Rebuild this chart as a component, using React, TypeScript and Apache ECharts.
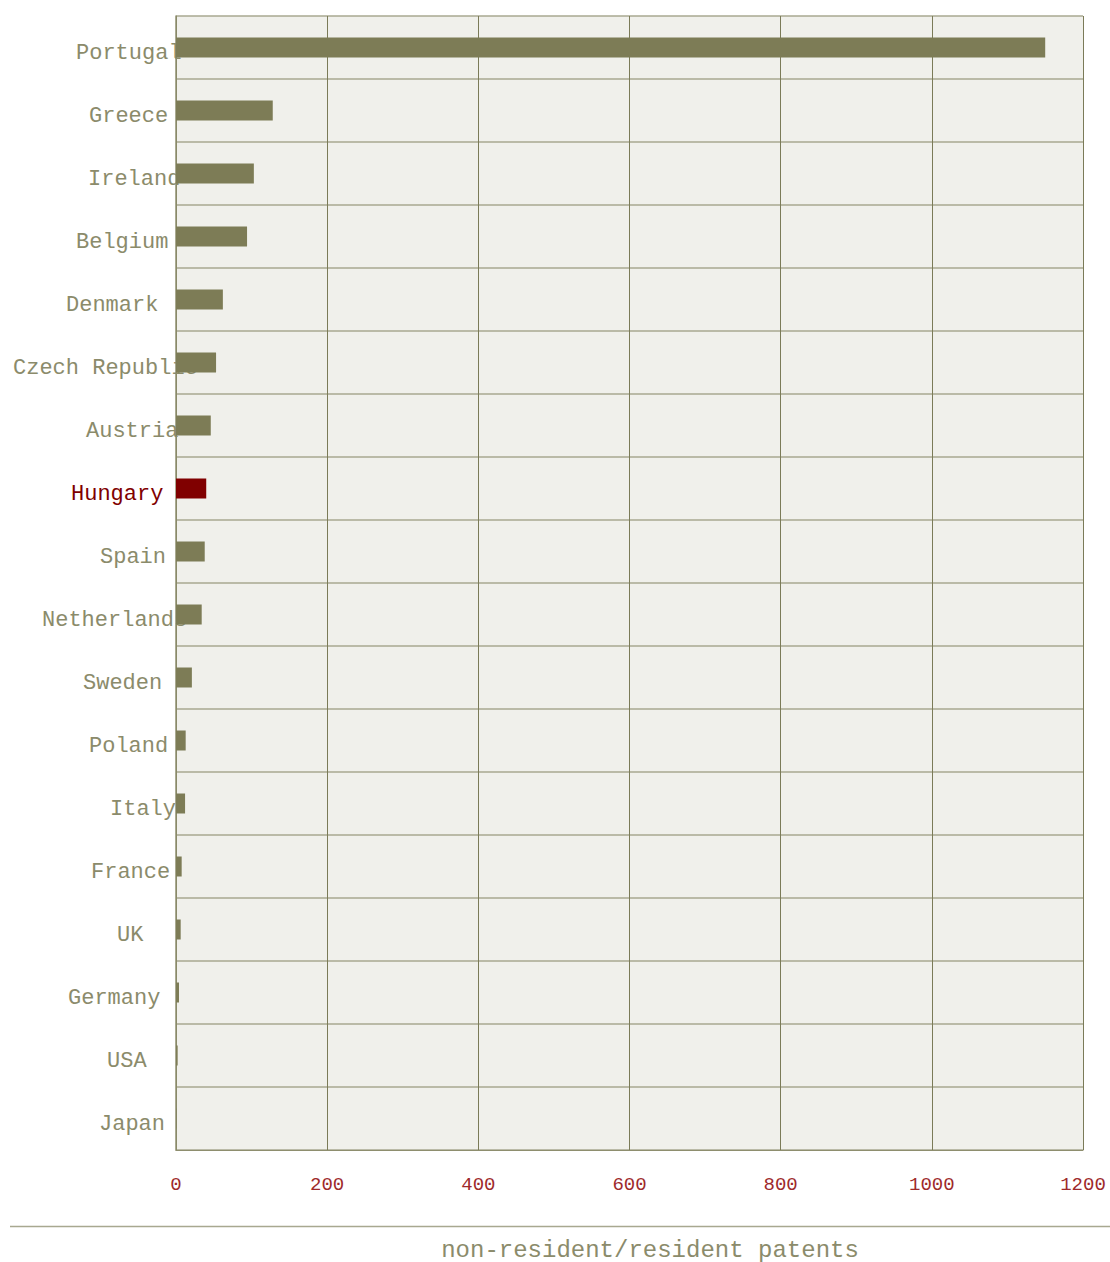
import React, { useEffect, useRef } from 'react';
import * as echarts from 'echarts';

const countries = [
  'Portugal', 'Greece', 'Ireland', 'Belgium', 'Denmark', 'Czech Republic', 'Austria', 'Hungary', 'Spain',
  'Netherlands', 'Sweden', 'Poland', 'Italy', 'France', 'UK', 'Germany', 'USA', 'Japan',
];
const ratios = [1150, 128, 103, 94, 62, 53, 46, 40, 38, 34, 21, 12.8, 12, 7.5, 6.2, 4, 2.2, 0.5];
// individual horizontal indent of each country label (px)
const labelIndent = [63, 76, 75, 63, 53, 0, 73, 58, 87, 29, 70, 76, 97, 78, 104, 55, 94, 86];
const highlighted = 'Hungary';
const xTickMin = 0;
const xTickMax = 1200;
const xTickStep = 200;
const axisTitle = 'non-resident/resident patents';

const OLIVE = '#7d7c56';
const RED = '#800000';
const LABEL = '#8b8b6b';
const FONT = "'Liberation Mono', 'Courier New', monospace";

export default function App() {
  const ref = useRef<HTMLDivElement>(null);
  useEffect(() => {
    if (!ref.current) return;
    const chart = echarts.init(ref.current, null, { renderer: 'svg' });
    const rich: Record<string, any> = {};
    countries.forEach((c, i) => {
      rich['c' + i] = {
        color: c === highlighted ? RED : LABEL,
        fontFamily: FONT,
        fontSize: 22,
        padding: [12, 0, 0, labelIndent[i]],
      };
    });
    const option: any = {
      animation: false,
      backgroundColor: '#ffffff',
      grid: {
        left: 176,
        top: 16,
        width: 907,
        height: 1134,
        show: true,
        backgroundColor: '#f0f0eb',
        borderWidth: 0,
        containLabel: false,
        outerBoundsMode: 'none',
      },
      xAxis: {
        type: 'value',
        z: 0,
        min: xTickMin,
        max: xTickMax,
        interval: xTickStep,
        axisLine: { show: true, lineStyle: { color: '#8e8e6e', width: 1 } },
        axisTick: { show: false },
        splitLine: { show: true, lineStyle: { color: '#7b7b58', width: 1 } },
        axisLabel: {
          margin: 35,
          verticalAlign: 'middle',
          color: '#9e2a2b',
          fontFamily: FONT,
          fontSize: 19,
          formatter: (v: number) => String(v),
        },
        name: axisTitle,
        nameLocation: 'middle',
        nameGap: 100,
        nameMoveOverlap: false,
        nameTextStyle: {
          color: LABEL,
          fontFamily: FONT,
          fontSize: 24,
          verticalAlign: 'middle',
          padding: [0, 0, 0, 41],
        },
      },
      yAxis: {
        type: 'category',
        z: 0,
        inverse: true,
        data: countries,
        axisLine: { show: true, lineStyle: { color: '#8e8e6e', width: 1.5 } },
        axisTick: { show: false },
        splitLine: { show: true, lineStyle: { color: '#a9a991', width: 1.5 } },
        axisLabel: {
          interval: 0,
          margin: 163,
          align: 'left',
          verticalAlign: 'middle',
          fontFamily: FONT,
          fontSize: 22,
          color: LABEL,
          formatter: (value: string) => `{c${countries.indexOf(value)}|${value}}`,
          rich,
        },
      },
      graphic: [
        {
          type: 'line',
          shape: { x1: 10, y1: 1226.5, x2: 1110, y2: 1226.5 },
          style: { stroke: '#a8a890', lineWidth: 1.5 },
        },
      ],
      series: [
        {
          type: 'bar',
          zlevel: 1,
          z: 10,
          barWidth: 20,
          data: ratios.map((v, i) => ({
            value: v,
            itemStyle: { color: countries[i] === highlighted ? RED : OLIVE },
          })),
        },
      ],
    };
    chart.setOption(option);
    return () => chart.dispose();
  }, []);
  return (
    <div
      ref={ref}
      style={{ position: 'absolute', left: 0, top: 0, width: 1110, height: 1262 }}
    />
  );
}
